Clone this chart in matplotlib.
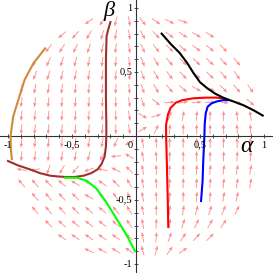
import numpy as np
import matplotlib
matplotlib.use('Agg')
import matplotlib.pyplot as plt

# direction field: angle of each arrow in degrees (None = outside the disk)
grid = np.linspace(-1, 1, 20)
N = None
angles = {
    # y index : 20 values, one per x column
    18: [N]*6 + [-145, -125, -105, -80, -52, -35, -27, -20] + [N]*6,
    17: [N]*4 + [-140, -132, -120, -108, -100, -82, -62, -45, -38, -33, -30, -32] + [N]*4,
    16: [N]*3 + [-128, -122, -115, -108, -103, -97, -82, -65, -52, -45, -40, -37, -38, -45] + [N]*3,
    15: [N]*2 + [-120, -113, -108, -104, -101, -98, -95, -83, -68, -57, -50, -45, -42, -43, -45, -50] + [N]*2,
    14: [N]*2 + [-110, -106, -103, -101, -99, -97, -94, -84, -70, -60, -53, -47, -40, -45, -50, -55] + [N]*2,
    13: [N] + [-100, -100, -99, -98, -97, -96, -95, -93, -85, -72, -60, -50, -40, -30, -25, -45, -50, -55] + [N],
    12: [N] + [-98, -97, -96, -95, -95, -94, -92, -90, -82, -70, -40, 5, 10, 5, 0, -10, -18, -40] + [N],
    11: [N] + [-95, -95, -95, -95, -94, -94, -92, -88, -80, -30, 15, 70, 80, 85, 88, 90, 95, 100] + [N],
    10: [N] + [-95, -95, -95, -95, -95, -95, -95, -90, -80, 30, 65, 85, 88, 90, 90, 92, 93, 95] + [N],
    9: [N] + [-95, -95, -95, -95, -96, -97, -100, -115, -150, 100, 92, 90, 90, 90, 90, 90, 92, 95] + [N],
    8: [N] + [-95, -95, -97, -98, -100, -105, -120, -175, 150, 100, 93, 90, 90, 90, 89, 88, 87, 86] + [N],
    7: [N] + [170, -170, -110, -120, -130, -160, 170, 155, 135, 100, 93, 90, 88, 86, 84, 82, 80, 80] + [N],
    6: [N] + [130, 130, 135, 140, 150, 150, 145, 135, 120, 100, 93, 90, 88, 88, 86, 84, 82, 80] + [N],
    5: [N]*2 + [130, 130, 132, 135, 150, 135, 125, 115, 100, 92, 88, 87, 86, 84, 80, 78] + [N]*2,
    4: [N]*2 + [130, 130, 132, 135, 138, 140, 130, 120, 102, 90, 85, 80, 75, 72, 68, 65] + [N]*2,
    3: [N]*3 + [135, 138, 140, 142, 142, 140, 125, 100, 88, 80, 72, 65, 60, 57] + [N]*3,
    2: [N]*4 + [145, 145, 145, 145, 145, 140, 100, 85, 70, 55, 48, 45] + [N]*4,
    1: [N]*6 + [155, 152, 150, 145, 105, 75, 55, 35] + [N]*6,
}

# trajectories
red_x = [0.252, 0.248, 0.243, 0.238, 0.235, 0.235, 0.25, 0.27, 0.31, 0.36, 0.45, 0.55, 0.63, 0.70]
red_y = [-0.71, -0.50, -0.30, -0.10, 0.00, 0.09, 0.17, 0.22, 0.26, 0.28, 0.295, 0.30, 0.30, 0.29]
blue_x = [0.508, 0.52, 0.525, 0.534, 0.537, 0.545, 0.56, 0.59, 0.63, 0.68, 0.72]
blue_y = [-0.508, -0.35, -0.20, 0.00, 0.10, 0.18, 0.23, 0.255, 0.27, 0.28, 0.28]
black_x = [0.20, 0.27, 0.34, 0.40, 0.45, 0.50, 0.56, 0.62, 0.68, 0.76, 0.84, 0.92, 0.99]
black_y = [0.80, 0.72, 0.65, 0.57, 0.49, 0.42, 0.37, 0.33, 0.30, 0.27, 0.24, 0.20, 0.16]
brown_x = [-0.20, -0.215, -0.23, -0.235, -0.235, -0.232, -0.232, -0.235, -0.245, -0.27, -0.30, -0.35,
           -0.41, -0.48, -0.55, -0.62, -0.67, -0.75, -0.83, -0.92, -1.0]
brown_y = [0.89, 0.84, 0.78, 0.60, 0.30, 0.10, 0.00, -0.08, -0.16, -0.22, -0.26, -0.29,
           -0.31, -0.32, -0.32, -0.315, -0.31, -0.29, -0.26, -0.23, -0.195]
green_x = [-0.555, -0.46, -0.385, -0.31, -0.23, -0.15, -0.07, -0.008]
green_y = [-0.326, -0.326, -0.35, -0.41, -0.52, -0.65, -0.78, -0.90]
orange_x = [-0.71, -0.80, -0.87, -0.92, -0.96, -0.98, -0.978, -0.97]
orange_y = [0.685, 0.57, 0.44, 0.28, 0.15, 0.0, -0.10, -0.18]

fig = plt.figure(figsize=(2.73, 2.73), dpi=100)
ax = fig.add_axes([0, 0, 1, 1])

X, Y, U, V = [], [], [], []
L = 0.08
for j, row in angles.items():
    for k, a in enumerate(row):
        if a is None:
            continue
        X.append(grid[k]); Y.append(grid[j])
        U.append(L*np.cos(np.radians(a))); V.append(L*np.sin(np.radians(a)))
ax.quiver(X, Y, U, V, angles='xy', scale_units='xy', scale=1, pivot='middle',
          color='#ff4040', alpha=0.6, width=0.0032, headwidth=4, headlength=5,
          headaxislength=4.5, zorder=1)

lw = 1.5
ax.plot(orange_x, orange_y, color='#d08a3a', lw=lw, zorder=3)
ax.plot(brown_x, brown_y, color='#a0302a', lw=lw, zorder=3)
ax.plot(green_x, green_y, color='#00ff00', lw=lw, zorder=3)
ax.plot(red_x, red_y, color='red', lw=lw, zorder=3)
ax.plot(blue_x, blue_y, color='blue', lw=lw, zorder=3)
ax.plot(black_x, black_y, color='black', lw=lw, zorder=3)

# axes through origin
ax.spines['left'].set_position(('data', 0))
ax.spines['bottom'].set_position(('data', 0))
ax.spines['right'].set_visible(False)
ax.spines['top'].set_visible(False)
ax.set_xlim(-1.0625, 1.070)
ax.set_ylim(-1.070, 1.0625)
ticks = np.round(np.arange(-1, 1.01, 0.1), 2)
ax.set_xticks(ticks)
ax.set_yticks(ticks)
ax.set_xticklabels([])
ax.set_yticklabels([])
ax.tick_params(direction='inout', length=3, width=0.6, color='#333333')
for s in ['left', 'bottom']:
    ax.spines[s].set_linewidth(0.8)
    ax.spines[s].set_color('#333333')

tfont = dict(family='Liberation Serif', fontsize=7.5)
for v, s in [(-1, '-1'), (-0.5, '-0,5'), (0.5, '0,5'), (1, '1')]:
    ax.text(v, -0.035, s, ha='center', va='top', **tfont)
for v, s in [(1, '1'), (0.5, '0,5'), (-0.5, '-0,5'), (-1, '-1')]:
    ax.text(-0.03, v, s, ha='right', va='center', **tfont)
ax.text(-0.025, -0.035, '0', ha='right', va='top', **tfont)
ax.text(0.86, -0.085, 'α', ha='center', va='center', fontsize=17,
        family='Liberation Serif', style='italic')
ax.text(-0.21, 0.975, 'β', ha='center', va='center', fontsize=16,
        family='Liberation Serif', style='italic')

fig.savefig('out.png', dpi=100)
